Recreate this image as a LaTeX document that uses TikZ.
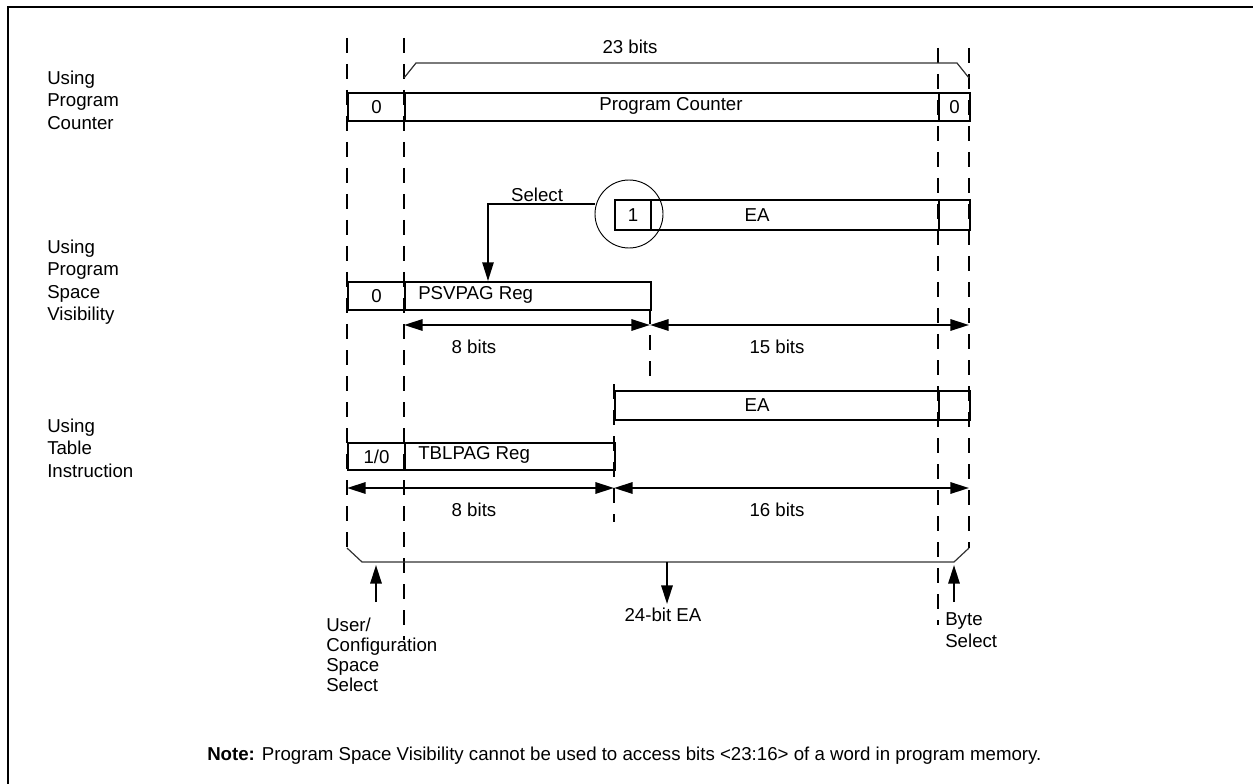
\documentclass[tikz,border=0pt]{standalone}
\usepackage{fontspec}
\setmainfont{Liberation Sans}
\usetikzlibrary{arrows.meta}
\newcommand\cellbox[6]{\node[box, anchor=north west, minimum width={(#4-#2)*0.75pt}, minimum height={(#5-#3)*0.75pt}] (#1) at (#2,#3) {#6};}
\begin{document}
\begin{tikzpicture}[x=0.75pt,y=-0.75pt,
  every node/.style={font=\fontsize{14}{16.8}\selectfont, inner sep=0pt},
  box/.style={draw, line width=1.6pt, inner sep=0pt},
  dl/.style={line width=1.5pt, dash pattern=on 11pt off 8.5pt},
  tip/.tip={Triangle[length=14pt,width=8.5pt]},
  arr/.style={line width=1.6pt, -tip},
  darr/.style={line width=1.6pt, tip-tip},
  brk/.style={line width=0.9pt, draw=black!80},
  side/.style={align=left, anchor=west, font=\fontsize{14}{16.9}\selectfont},
]
\useasboundingbox (0,0) rectangle (1253,784);
% frame
\draw[line width=1.6pt] (8,784) -- (8,7) -- (1253,7);
% dashed guide lines
\draw[dl] (347,38) -- (347,548);
\draw[dl] (404,38) -- (404,640);
\draw[dl] (938,48) -- (938,625);
\draw[dl] (969,48) -- (969,548);
\draw[dl] (650,309) -- (650,382);
\draw[dl] (614,384) -- (614,522);
% 23 bits bracket
\coordinate (b1) at (404,78); \coordinate (b2) at (969,78);
\draw[brk] (b1) -- (416,63) -- (957,63) -- (b2);
\node (t23) at (630,47) {23 bits};
% Program counter row
\cellbox{pca}{347}{92}{404}{120}{0}
\cellbox{pcb}{404}{92}{938}{120}{}
\cellbox{pcc}{938}{92}{969}{120}{0}
\node (pctxt) at (671,106) {Program Counter};
\node[side] (lpc) at (47,100) {Using\\Program\\Counter};
% PSV row
\cellbox{one}{614}{199}{650}{229}{1}
\cellbox{eaa}{650}{199}{938}{229}{}
\cellbox{eab}{938}{199}{969}{229}{}
\node (eatxt) at (757,215) {EA};
\draw[line width=0.7pt] (629,214) circle (34);
\node[draw=none, minimum size=51pt, circle] (circ) at (629,214) {};
\cellbox{psa}{347}{281}{404}{309}{0}
\cellbox{psb}{404}{281}{650}{309}{}
\node[anchor=west] (psvtxt) at (418,295) {PSVPAG Reg};
\coordinate (selbend) at (488,204);
\draw[line width=1.2pt, -tip] (circ.west |- selbend) -- (selbend) -- (selbend |- psb.north);
\node (sel) at (537,195) {Select};
\node[side] (lpsv) at (47,282) {Using\\Program\\Space\\Visibility};
\coordinate (a1) at (404,325); \coordinate (a2) at (650,325); \coordinate (a3) at (969,325);
\draw[darr] (a1) -- (a2);
\draw[darr] (a2) -- (a3);
\node (b8a) at (474,347) {8 bits};
\node (b15) at (777,347) {15 bits};
% Table row
\cellbox{tea}{614}{390}{938}{419}{}
\cellbox{teb}{938}{390}{969}{419}{}
\node (tetxt) at (757,405) {EA};
\cellbox{tba}{347}{442}{404}{469}{1/0}
\cellbox{tbb}{404}{442}{614}{469}{}
\node[anchor=west] (tbltxt) at (418,455) {TBLPAG Reg};
\node[side] (ltbl) at (47,448) {Using\\Table\\Instruction};
\coordinate (c1) at (347,488); \coordinate (c2) at (614,488); \coordinate (c3) at (969,488);
\draw[darr] (c1) -- (c2);
\draw[darr] (c2) -- (c3);
\node (b8b) at (474,510) {8 bits};
\node (b16) at (777,510) {16 bits};
% bottom bracket
\coordinate (d1) at (347,548); \coordinate (d2) at (969,548);
\coordinate (dmid) at (667,562);
\draw[brk] (d1) -- (362,562) -- (954,562) -- (d2);
\node (ea24) at (663,615) {24-bit EA};
\draw[arr] (dmid) -- (dmid |- 0,604);
\node[align=left, anchor=north west, font=\fontsize{14}{15}\selectfont] (ucfg) at (326,618) {User/\\Configuration\\Space\\Select};
\draw[arr] (376,602) -- (376,565);
\node[align=left, anchor=north west, font=\fontsize{14}{17}\selectfont] (bsel) at (945,612) {Byte\\Select};
\draw[arr] (954,602) -- (954,565);
% note
\node[anchor=west, font=\fontsize{14}{16}\selectfont] (note) at (207,756) {\textbf{Note:} Program Space Visibility cannot be used to access bits <23:16> of a word in program memory.};
\end{tikzpicture}
\end{document}
